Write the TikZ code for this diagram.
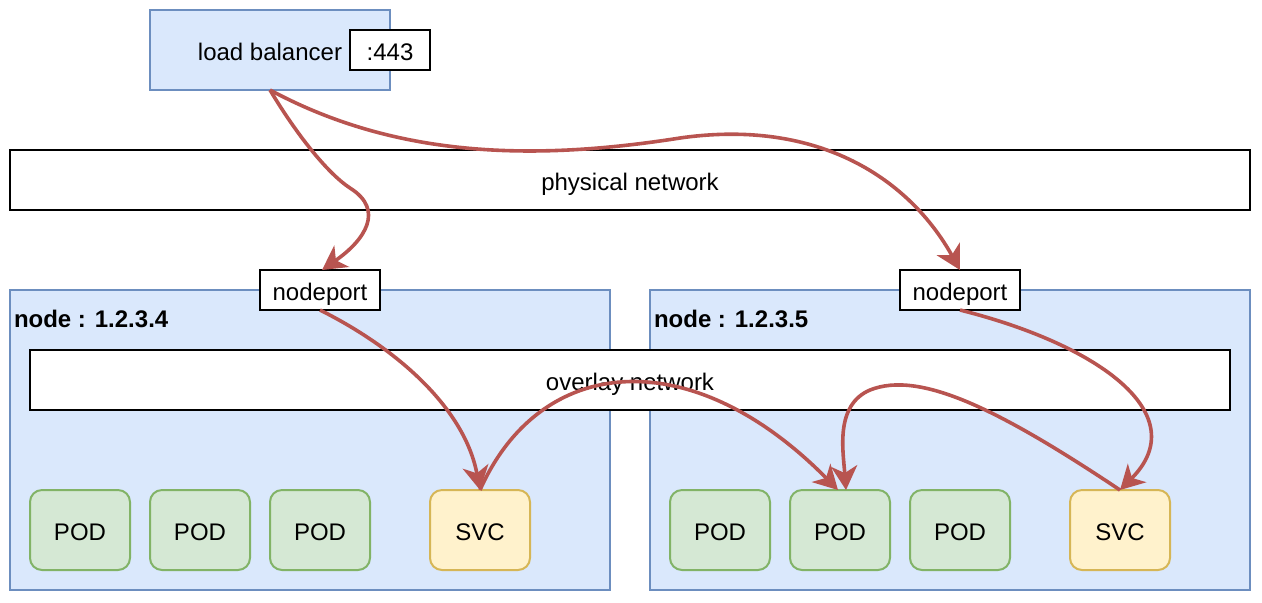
\documentclass[tikz,border=0pt,12pt]{standalone}
\usepackage{fontspec}
\setmainfont{Liberation Sans}
\usetikzlibrary{
    arrows.meta
}
\definecolor{hostfill}{HTML}{DAE8FC}
\definecolor{hostline}{HTML}{6C8EBF}
\definecolor{podfill}{HTML}{D5E8D4}
\definecolor{podline}{HTML}{82B366}
\definecolor{svcfill}{HTML}{FFF2CC}
\definecolor{svcline}{HTML}{D6B656}
\definecolor{flowline}{HTML}{B85450}
\tikzset{
    every picture/.style = {
        x = 0.5pt,
        y = -0.5pt
    },
    every node/.style = {
        inner sep = 0pt,
        outer sep = 0pt,
        text height = 10.5pt,
        text depth = 0pt,
        align = center
    },
    boxsize/.style 2 args = {
        minimum width = #1,
        minimum height = #2
    },
    hostbox/.style = {
        draw = hostline,
        fill = hostfill,
        line width = 1pt
    },
    netbox/.style = {
        draw = black,
        fill = white,
        line width = 1pt
    },
    portbox/.style = {
        netbox,
        boxsize = {60pt}{20pt}
    },
    podbox/.style = {
        draw = podline,
        fill = podfill,
        line width = 1pt,
        rounded corners = 6pt,
        boxsize = {50pt}{40pt}
    },
    svcbox/.style = {
        podbox,
        draw = svcline,
        fill = svcfill
    },
    flow/.style = {
        draw = flowline,
        line width = 1.8pt,
        -{Stealth[length = 12pt, width = 13pt, inset = 3.5pt]}
    }
}

\begin{document}
\begin{tikzpicture}
    \useasboundingbox (0,0) rectangle (1262,602);
    % the two hosts
    \path (310,440) node [hostbox, boxsize = {300pt}{150pt}] (host1) {};
    \path (950,440) node [hostbox, boxsize = {300pt}{150pt}] (host2) {};
    \path (14,327) node [anchor = base west, text height = 9pt, font = \bfseries] (host1name) {node : 1.2.3.4};
    \path (654,327) node [anchor = base west, text height = 9pt, font = \bfseries] (host2name) {node : 1.2.3.5};
    % networks
    \path (630,180) node [netbox, boxsize = {620pt}{30pt}] (physnet) {physical network};
    \path (630,380) node [netbox, boxsize = {600pt}{30pt}] (overlay) {overlay network};
    % load balancer
    \path (270,50) node [hostbox, boxsize = {120pt}{40pt}] (lb) {load balancer};
    \path (390,50) node [netbox, boxsize = {40pt}{20pt}] (lbport) {:443};
    % node ports
    \path (320,290) node [portbox] (nodeport1) {nodeport};
    \path (960,290) node [portbox] (nodeport2) {nodeport};
    % pods and services
    \foreach \x [count = \i] in {80,200,320} {
        \path (\x,530) node [podbox] (pod\i) {POD};
    }
    \foreach \x [count = \i from 4] in {720,840,960} {
        \path (\x,530) node [podbox] (pod\i) {POD};
    }
    \path (480,530) node [svcbox] (svc1) {SVC};
    \path (1120,530) node [svcbox] (svc2) {SVC};
    % traffic
    \draw[flow] (lb.south) .. controls (300,140) and (330,175) .. (350,188)
        .. controls (385,210) and (365,240) .. ([xshift = 1pt]nodeport1.north);
    \draw[flow] (lb.south) .. controls (400,160) and (540,160) .. (680,138)
        .. controls (820,118) and (910,180) .. (nodeport2.north);
    \draw[flow] (nodeport1.south) .. controls (400,350) and (465,410) .. (svc1.north);
    \draw[flow] (svc1.north) .. controls (540,355) and (690,340) .. ([xshift = -1pt]pod5.north);
    \draw[flow] (nodeport2.south) .. controls (1100,345) and (1195,415) .. (svc2.north);
    \draw[flow] (svc2.north) .. controls (1000,410) and (920,370) .. (870,390)
        .. controls (835,405) and (843,450) .. ([xshift = 3pt]pod5.north);
\end{tikzpicture}
\end{document}
